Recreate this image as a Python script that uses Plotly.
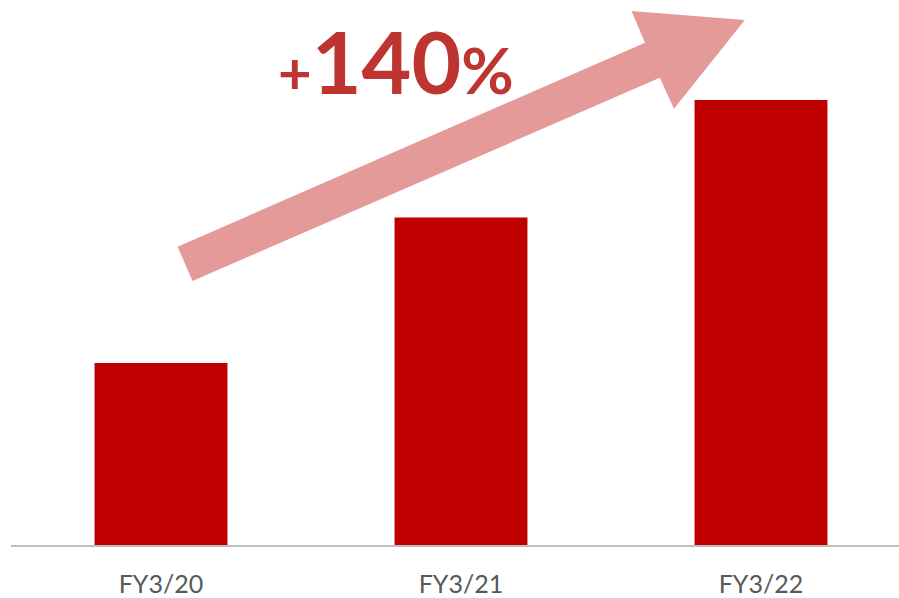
import plotly.graph_objects as go

# data
years = ["FY3/20", "FY3/21", "FY3/22"]
values = [100, 180, 244.5]
growth_label = "+140%"

W, H = 899, 598
L, B = 11, 53          # plot area in px: x 11..899, y 0..545
PW, PH = W - L, H - B

def px(x, y):
    # pixel -> paper coords for the decorative arrow
    return (x - L) / PW, (H - B - y) / PH

arrow_px = [(177.6, 246.7), (644.9, 42.7), (631.5, 11), (744.8, 20),
            (674.0, 108.7), (659.8, 77.7), (192.5, 281.0)]
pts = [px(x, y) for x, y in arrow_px]
path = "M " + " L ".join(f"{a:.4f},{b:.4f}" for a, b in pts) + " Z"

fig = go.Figure()
fig.add_trace(go.Bar(x=years, y=values, marker_color="#C00000",
                     marker_line_width=0, width=0.443))

fig.add_shape(type="path", path=path, xref="paper", yref="paper",
              fillcolor="#E59A9A", line_width=0, layer="above")

plus, num, pct = growth_label[0], growth_label[1:-1], growth_label[-1]
fig.add_annotation(
    xref="paper", yref="paper", x=px(276, 0)[0], y=px(0, 60)[1],
    xanchor="left", yanchor="middle", showarrow=False,
    text=f"<b><span style='font-size:58px'>{plus}</span>{num}<span style='font-size:64px'>{pct}</span></b>",
    font=dict(family="Lato", size=86, color="#BE3430"),
)

fig.update_layout(
    width=W, height=H,
    margin=dict(l=L, r=0, t=0, b=B),
    plot_bgcolor="white", paper_bgcolor="white",
    showlegend=False,
    xaxis=dict(range=[-0.5, 2.46], showline=True, linecolor="#BFBFBF", linewidth=2,
               showgrid=False, ticks="", ticklabelstandoff=16, automargin=False,
               tickfont=dict(family="Lato", size=25, color="#595959")),
    yaxis=dict(range=[0, 299.5], visible=False, showgrid=False, automargin=False),
)

fig.write_html("out.html", config={"displayModeBar": False},
               post_script="document.body.style.margin='0px';")
